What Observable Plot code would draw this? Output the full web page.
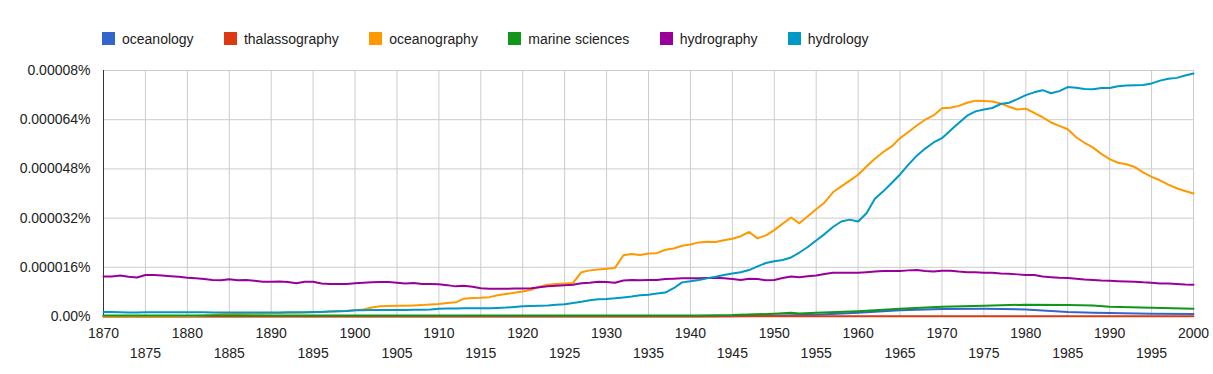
<!DOCTYPE html>
<html>
<head>
<meta charset="utf-8">
<script src="https://cdn.jsdelivr.net/npm/d3@7"></script>
<script src="https://cdn.jsdelivr.net/npm/@observablehq/plot@0.6"></script>
<style>
  html, body { margin: 0; padding: 0; background: #fff; }
  body { width: 1213px; height: 374px; overflow: hidden; font-family: "Liberation Sans", Arial, sans-serif; }
  #legend { box-sizing: border-box; height: 55px; padding: 31px 0 0 102px; display: flex; align-items: flex-start; font-size: 14px; color: #222; }
  #legend .item { display: flex; align-items: center; margin-right: 30.3px; height: 15px; }
  #legend .sw { width: 13px; height: 13px; margin-right: 7px; }
  #chart svg { display: block; }
</style>
</head>
<body>
<div id="legend"></div>
<div id="chart"></div>
<script>
// Series names and colours (legend order = drawing order)
const seriesNames = ["oceanology", "thalassography", "oceanography", "marine sciences", "hydrography", "hydrology"];
const seriesColors = ["#3366cc", "#dc3912", "#ff9900", "#109618", "#990099", "#0099c6"];

// Values in millionths of a percent (0.000001%)
const years = d3.range(1870, 2001);

const hydrography = [
  13.0, 13.0, 13.3, 12.9, 12.7, 13.5, 13.5, 13.3, 13.1, 12.9,
  12.6, 12.4, 12.2, 11.9, 11.8, 12.1, 11.8, 11.9, 11.6, 11.3,
  11.3, 11.4, 11.2, 10.8, 11.3, 11.3, 10.7, 10.6, 10.6, 10.6,
  10.8, 11.0, 11.1, 11.2, 11.2, 11.0, 10.7, 10.9, 10.6, 10.6,
  10.5, 10.2, 9.8, 10.0, 9.7, 9.2, 9.0, 9.0, 9.0, 9.1,
  9.1, 9.2, 9.5, 9.8, 10.0, 10.2, 10.3, 10.8, 11.0, 11.3,
  11.2, 11.0, 11.7, 11.9, 11.8, 11.9, 11.9, 12.2, 12.3, 12.4,
  12.4, 12.4, 12.5, 12.6, 12.4, 12.2, 11.9, 12.3, 12.2, 11.8,
  11.9, 12.5, 13.0, 12.8, 13.1, 13.3, 13.8, 14.2, 14.2, 14.2,
  14.2, 14.4, 14.6, 14.8, 14.8, 14.8, 15.0, 15.1, 14.8, 14.6,
  14.9, 14.9, 14.6, 14.4, 14.4, 14.2, 14.2, 14.0, 13.9, 13.7,
  13.5, 13.5, 13.0, 12.8, 12.6, 12.5, 12.3, 12.0, 11.9, 11.7,
  11.6, 11.5, 11.4, 11.3, 11.1, 11.0, 10.7, 10.7, 10.6, 10.4,
  10.3
];

const oceanography = [
  0.1, 0.1, 0.1, 0.1, 0.1, 0.1, 0.1, 0.1, 0.1, 0.1,
  0.2, 0.2, 0.3, 0.5, 0.7, 0.8, 0.8, 0.9, 1.0, 1.0,
  1.1, 1.1, 1.2, 1.2, 1.3, 1.4, 1.5, 1.6, 1.7, 1.8,
  2.0, 2.3, 2.9, 3.3, 3.4, 3.5, 3.5, 3.6, 3.7, 3.9,
  4.1, 4.4, 4.6, 5.8, 6.0, 6.1, 6.3, 6.9, 7.3, 7.7,
  8.1, 8.7, 9.7, 10.3, 10.6, 10.7, 10.9, 14.4, 15.0, 15.3,
  15.5, 15.8, 19.9, 20.3, 20.0, 20.5, 20.6, 21.7, 22.1, 23.0,
  23.4, 24.1, 24.3, 24.2, 24.8, 25.3, 26.1, 27.5, 25.4, 26.4,
  28.1, 30.2, 32.2, 30.3, 32.6, 34.9, 37.1, 40.4, 42.3, 44.2,
  46.1, 48.8, 51.3, 53.5, 55.3, 58.0, 60.0, 62.1, 64.0, 65.4,
  67.7, 67.9, 68.5, 69.5, 70.2, 70.1, 69.9, 69.3, 68.2, 67.3,
  67.6, 66.2, 64.8, 63.1, 62.0, 60.9, 58.3, 56.5, 55.0, 52.9,
  51.2, 50.0, 49.5, 48.6, 46.9, 45.4, 44.3, 42.9, 41.7, 40.8,
  40.0
];

const hydrology = [
  1.5, 1.5, 1.4, 1.3, 1.3, 1.4, 1.4, 1.4, 1.4, 1.4,
  1.4, 1.4, 1.4, 1.3, 1.3, 1.3, 1.3, 1.3, 1.3, 1.3,
  1.3, 1.3, 1.4, 1.4, 1.4, 1.5, 1.5, 1.6, 1.7, 1.8,
  2.0, 2.0, 2.1, 2.1, 2.1, 2.1, 2.1, 2.2, 2.2, 2.3,
  2.5, 2.6, 2.6, 2.7, 2.7, 2.7, 2.7, 2.8, 2.9, 3.1,
  3.3, 3.4, 3.5, 3.6, 3.8, 4.0, 4.4, 4.8, 5.3, 5.6,
  5.7, 5.9, 6.2, 6.5, 6.9, 7.1, 7.5, 7.8, 9.2, 11.1,
  11.5, 11.9, 12.4, 12.9, 13.5, 14.0, 14.4, 15.1, 16.3, 17.4,
  18.0, 18.4, 19.2, 20.8, 22.6, 24.7, 26.8, 29.1, 30.9, 31.5,
  30.9, 33.6, 38.3, 40.7, 43.4, 46.2, 49.4, 52.3, 54.6, 56.6,
  58.0, 60.5, 62.9, 65.3, 66.7, 67.3, 67.8, 69.1, 69.5, 70.7,
  72.0, 72.9, 73.6, 72.6, 73.3, 74.6, 74.4, 74.0, 73.9, 74.3,
  74.3, 74.9, 75.1, 75.2, 75.3, 75.8, 76.7, 77.3, 77.6, 78.4,
  79.0
];

// Low-lying series, read at sampled years
const lowYears       = [1870, 1930, 1932, 1941, 1945, 1950, 1952, 1953, 1955, 1960, 1965, 1970, 1975, 1980, 1985, 1988, 1990, 1995, 2000];
const marineSciences = [0.3, 0.3, 0.35, 0.35, 0.45, 0.9, 1.2, 1.0, 1.2, 1.7, 2.5, 3.2, 3.5, 3.85, 3.75, 3.6, 3.2, 2.85, 2.5];
const oceanology     = [0.05, 0.05, 0.05, 0.08, 0.1, 0.3, 0.4, 0.45, 0.6, 1.2, 2.0, 2.4, 2.5, 2.3, 1.5, 1.25, 1.1, 0.9, 0.8];
const thalassography = [0.03, 0.03, 0.03, 0.04, 0.05, 0.05, 0.06, 0.06, 0.06, 0.07, 0.07, 0.07, 0.07, 0.06, 0.06, 0.05, 0.05, 0.05, 0.05];

// Axis ticks
const yTicks = [0, 16, 32, 48, 64, 80];
const yTickLabels = ["0.00%", "0.000016%", "0.000032%", "0.000048%", "0.000064%", "0.00008%"];
const xTicksMajor = [1870, 1880, 1890, 1900, 1910, 1920, 1930, 1940, 1950, 1960, 1970, 1980, 1990, 2000];
const xTicksMinor = [1875, 1885, 1895, 1905, 1915, 1925, 1935, 1945, 1955, 1965, 1975, 1985, 1995];
const xGrid = [...xTicksMajor, ...xTicksMinor];

// Build table in drawing order
const seriesData = {
  "oceanology": [lowYears, oceanology],
  "thalassography": [lowYears, thalassography],
  "oceanography": [years, oceanography],
  "marine sciences": [lowYears, marineSciences],
  "hydrography": [years, hydrography],
  "hydrology": [years, hydrology]
};
const rows = [];
for (const name of seriesNames) {
  const [xs, vs] = seriesData[name];
  xs.forEach((yr, i) => rows.push({name, year: yr, value: vs[i]}));
}

// Legend
const legend = document.getElementById("legend");
seriesNames.forEach((n, i) => {
  const it = document.createElement("div");
  it.className = "item";
  const sw = document.createElement("div");
  sw.className = "sw";
  sw.style.background = seriesColors[i];
  const tx = document.createElement("span");
  tx.textContent = n;
  it.appendChild(sw); it.appendChild(tx);
  legend.appendChild(it);
});

const chart = Plot.plot({
  width: 1213,
  height: 319,
  marginLeft: 103,
  marginRight: 20,
  marginTop: 15,
  marginBottom: 58,
  style: {fontSize: "14px", fontFamily: "'Liberation Sans', Arial, sans-serif", color: "#222", background: "#fff", overflow: "visible"},
  x: {domain: [1870, 2000]},
  y: {domain: [0, 80]},
  color: {domain: seriesNames, range: seriesColors},
  marks: [
    Plot.gridX(xGrid, {stroke: "#cccccc", strokeOpacity: 1}),
    Plot.gridY(yTicks, {stroke: "#cccccc", strokeOpacity: 1}),
    Plot.axisY(yTicks, {tickSize: 0, tickPadding: 13, tickFormat: (d) => yTickLabels[yTicks.indexOf(d)], label: null, fill: "#222"}),
    Plot.axisX(xTicksMajor, {tickSize: 0, tickPadding: 12, tickFormat: d => String(d), label: null, fill: "#222"}),
    Plot.axisX(xTicksMinor, {tickSize: 0, tickPadding: 32, tickFormat: d => String(d), label: null, fill: "#222"}),
    Plot.ruleX([1870], {stroke: "#333"}),
    Plot.ruleY([0], {stroke: "#333"}),
    Plot.line(rows, {x: "year", y: "value", z: "name", stroke: "name", strokeWidth: 2, curve: "linear"})
  ]
});
document.getElementById("chart").appendChild(chart);
</script>
</body>
</html>
